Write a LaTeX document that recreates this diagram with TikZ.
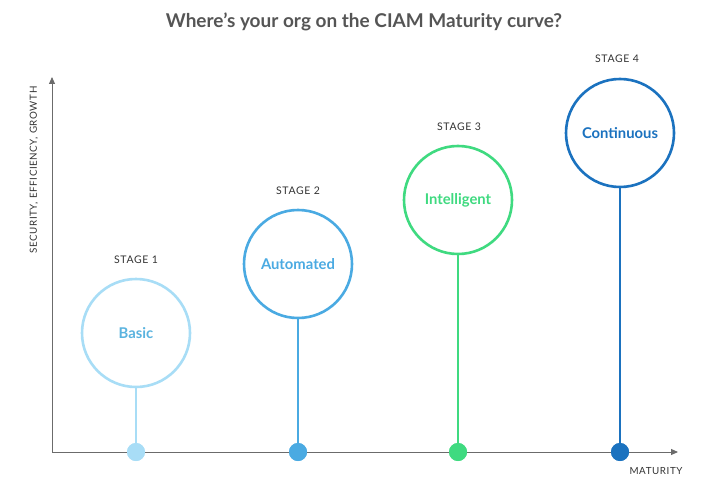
\documentclass[tikz,border=0pt]{standalone}
\usepackage{fontspec}
\setmainfont{Lato}
\usetikzlibrary{arrows.meta}
\definecolor{axisgray}{HTML}{6B6B6B}
\definecolor{titlegray}{HTML}{555555}
\definecolor{sone}{HTML}{A8DDF6}
\definecolor{sonetext}{HTML}{5AB3DF}
\definecolor{stwo}{HTML}{4AAAE2}
\definecolor{sthree}{HTML}{3FDA80}
\definecolor{sfour}{HTML}{1B72BF}
\begin{document}
\begin{tikzpicture}[x=1pt,y=-1pt,
  stagecircle/.style={circle,draw=#1,line width=2.6pt,fill=white,minimum size=108pt,inner sep=0pt},
  stem/.style={draw=#1,line width=2.6pt},
  dot/.style={circle,fill=#1,minimum size=18pt,inner sep=0pt},
  stagelbl/.style={font=\fontsize{10.5}{12}\selectfont\addfontfeature{LetterSpace=6},text=black!80},
  axislbl/.style={font=\fontsize{9.8}{11}\selectfont\addfontfeature{LetterSpace=6},text=black!80},
  inner/.style={font=\fontsize{14.8}{17}\bfseries\selectfont,text=#1},
  axis/.style={draw=axisgray,line width=0.9pt,-{Triangle[length=7pt,width=6pt]}}
]
\useasboundingbox (0,0) rectangle (708,489);
\node[font=\fontsize{19}{22}\bfseries\selectfont,text=titlegray] (title) at (364,22) {Where’s your org on the CIAM Maturity curve?};
\coordinate (o) at (52,452);
\coordinate (ytop) at (52,77);
\coordinate (xend) at (678,452);
\draw[axis] (o) -- (ytop);
\draw[axis] (o) -- (xend);
\node[axislbl,rotate=90] (ylab) at (34,170) {SECURITY, EFFICIENCY, GROWTH};
\node[axislbl] (xlab) at (656,471) {MATURITY};
% stage 1
\node[stagecircle=sone] (c1) at (136,333) {};
\node[inner=sonetext] (t1) at (c1) {Basic};
\node[dot=sone] (d1) at (136,452) {};
\draw[stem=sone] (c1.south) -- (d1.center);
\node[dot=sone] at (d1) {};
\node[stagelbl] (l1) at (136,260) {STAGE 1};
% stage 2
\node[stagecircle=stwo] (c2) at (298,264) {};
\node[inner=stwo] (t2) at (c2) {Automated};
\node[dot=stwo] (d2) at (298,452) {};
\draw[stem=stwo] (c2.south) -- (d2.center);
\node[dot=stwo] at (d2) {};
\node[stagelbl] (l2) at (298,191) {STAGE 2};
% stage 3
\node[stagecircle=sthree] (c3) at (458,200) {};
\node[inner=sthree] (t3) at (c3) {Intelligent};
\node[dot=sthree] (d3) at (458,452) {};
\draw[stem=sthree] (c3.south) -- (d3.center);
\node[dot=sthree] at (d3) {};
\node[stagelbl] (l3) at (459,127) {STAGE 3};
% stage 4
\node[stagecircle=sfour] (c4) at (620,133) {};
\node[inner=sfour] (t4) at (c4) {Continuous};
\node[dot=sfour] (d4) at (620,452) {};
\draw[stem=sfour] (c4.south) -- (d4.center);
\node[dot=sfour] at (d4) {};
\node[stagelbl] (l4) at (617,59) {STAGE 4};
\end{tikzpicture}
\end{document}
